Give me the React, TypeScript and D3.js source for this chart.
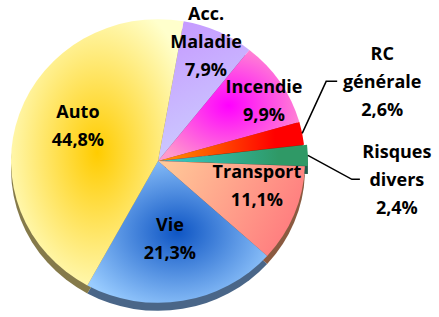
import React from "react";
import * as d3 from "d3";

const categories = ["Acc. Maladie", "Incendie", "RC générale", "Risques divers", "Transport", "Vie", "Auto"];
const values = [7.9, 9.9, 2.6, 2.4, 11.1, 21.3, 44.8];
const labelLines = [["Acc.", "Maladie"], ["Incendie"], ["RC", "générale"], ["Risques", "divers"], ["Transport"], ["Vie"], ["Auto"]];

// fills: [type, inner/start colour, outer/end colour]
const fills: [string, string, string][] = [
  ["linV", "#C596FF", "#CCCCFF"],
  ["rad", "#FF00FF", "#FF99CC"],
  ["linH", "#FF9900", "#FF0000"],
  ["linH", "#33CCCC", "#2F9966"],
  ["linD", "#FFCC99", "#FF8080"],
  ["rad", "#0E55C4", "#99CCFF"],
  ["rad", "#FFCC00", "#FFFFCC"],
];
const sideColors = ["#6A5A8A", "#8A3A6A", "#8A2000", "#1F5A4A", "#8A5A40", "#4A6688", "#857A4A"];

// label layout: inside labels as [angle deg, radius fraction]; null => outside
const insideLabel: ([number, number] | null)[] = [[21.3, 0.9], [59.6, 0.836], null, null, [104.7, 0.696], [171.6, 0.556], [294.4, 0.598]];
// outside labels: [elbow dx, elbow dy, tail, text dx]
const outsideLabel: ([number, number, number, number] | null)[] = [null, null, [24, -52, 11, 45], [44, 24, 8, 37], null, null, null];
const explode = [0, 0, 0, 3, 0, 0, 0];

const W = 439, H = 317;
const cx = 158, cy = 161, R = 147, SY = 0.965, DEPTH = 8, LH = 28;
const START = (10 * Math.PI) / 180;
const FONT = "'Open Sans', sans-serif";
const FS = 18;

const fmt = (v: number) => d3.format(".1f")(v).replace(".", ",") + "%";

export default function App() {
  const pie = d3.pie<number>().sort(null).startAngle(START).endAngle(START + 2 * Math.PI);
  const arcs = pie(values);
  const arc = d3.arc<d3.PieArcDatum<number>>().innerRadius(0).outerRadius(R);

  const toScreen = (a: number, r: number) => [cx + r * Math.sin(a), cy - r * Math.cos(a) * SY];

  const off = (i: number) => {
    const a = (arcs[i].startAngle + arcs[i].endAngle) / 2;
    return [explode[i] * Math.sin(a), -explode[i] * Math.cos(a)];
  };

  return (
    <svg width={W} height={H} style={{ position: "absolute", left: 0, top: 0, background: "#fff" }}>
      <defs>
        {fills.map(([t, c1, c2], i) =>
          t === "rad" ? (
            <radialGradient key={i} id={`g${i}`} cx="0.5" cy="0.5" r="0.6">
              <stop offset="0" stopColor={c1} />
              <stop offset="1" stopColor={c2} />
            </radialGradient>
          ) : (
            <linearGradient
              key={i}
              id={`g${i}`}
              x1="0"
              y1="0"
              x2={t === "linV" ? "0.3" : t === "linD" ? "1" : "0.8"}
              y2={t === "linV" ? "1" : t === "linD" ? "0.35" : "0"}
            >
              <stop offset="0" stopColor={c1} />
              <stop offset="1" stopColor={c2} />
            </linearGradient>
          )
        )}
      </defs>
      {/* side / depth */}
      <g transform={`translate(${cx},${cy + DEPTH}) scale(1,${SY})`}>
        {arcs.map((d, i) => (
          <path key={i} d={arc(d) || ""} fill={sideColors[i]} transform={`translate(${off(i)[0]},${off(i)[1]})`} />
        ))}
      </g>
      {/* faces */}
      <g transform={`translate(${cx},${cy}) scale(1,${SY})`}>
        {arcs.map((d, i) => (
          <path key={i} d={arc(d) || ""} fill={`url(#g${i})`} transform={`translate(${off(i)[0]},${off(i)[1]})`} />
        ))}
      </g>
      {/* labels */}
      {arcs.map((d, i) => {
        const lines = [...labelLines[i], fmt(values[i])];
        const n = lines.length;
        const il = insideLabel[i];
        if (il) {
          const [x, y] = toScreen((il[0] * Math.PI) / 180, il[1] * R);
          return (
            <text key={i} fontFamily={FONT} fontWeight={700} fontSize={FS} textAnchor="middle" fill="#000">
              {lines.map((l, k) => (
                <tspan key={k} x={x} y={y + (k - (n - 1) / 2) * LH} dy="0.35em">
                  {l}
                </tspan>
              ))}
            </text>
          );
        }
        const ol = outsideLabel[i]!;
        const mid = (d.startAngle + d.endAngle) / 2;
        const [px, py] = toScreen(mid, R + explode[i]);
        const ex = px + ol[0], ey = py + ol[1];
        const tx = ex + ol[2];
        return (
          <g key={i}>
            <polyline points={`${px},${py} ${ex},${ey} ${tx},${ey}`} fill="none" stroke="#000" strokeWidth={1.5} />
            <text fontFamily={FONT} fontWeight={700} fontSize={FS} textAnchor="middle" fill="#000">
              {lines.map((l, k) => (
                <tspan key={k} x={tx + ol[3]} y={ey + (k - (n - 1) / 2) * LH} dy="0.35em">
                  {l}
                </tspan>
              ))}
            </text>
          </g>
        );
      })}
    </svg>
  );
}
